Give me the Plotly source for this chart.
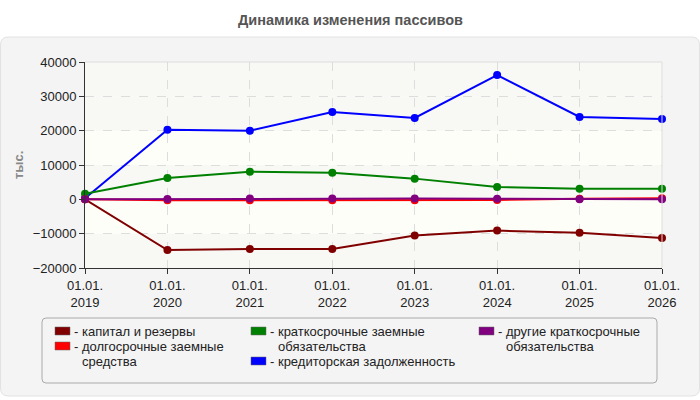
import plotly.graph_objects as go

years = [2019, 2020, 2021, 2022, 2023, 2024, 2025, 2026]
tick_labels = ["01.01.<br>%d" % y for y in years]

capital = [0, -14750, -14450, -14450, -10570, -9110, -9700, -11250]
long_term = [0, -300, -300, -300, -300, -200, 200, 300]
short_term = [1650, 6200, 8060, 7770, 6030, 3600, 3110, 3110]
payables = [300, 20300, 20000, 25440, 23700, 36200, 24000, 23400]
other_short = [0, 100, 250, 250, 250, 150, 50, 0]

series_names = [
    "капитал и резервы",
    "долгосрочные заемные<br>средства",
    "краткосрочные заемные<br>обязательства",
    "кредиторская задолженность",
    "другие краткосрочные<br>обязательства",
]
series_values = [capital, long_term, short_term, payables, other_short]
series_colors = ["#800000", "#ff0000", "#008000", "#0000ff", "#800080"]

FONT = "Liberation Sans, Arial, sans-serif"
W, H = 700, 400
L, R, T, B = 85, 38, 62, 132
PW, PH = W - L - R, H - T - B


def px2x(px):
    return (px - L) / PW


def px2y(py):
    return 1 - (py - T) / PH


fig = go.Figure()

draw_order = [0, 3, 2, 1, 4]
for i in draw_order:
    fig.add_trace(go.Scatter(
        x=years, y=series_values[i], mode="lines+markers",
        name=series_names[i].replace("<br>", " "),
        line=dict(color=series_colors[i], width=2),
        marker=dict(color=series_colors[i], size=8),
        cliponaxis=False, showlegend=False,
    ))

shapes = []
x0, x1 = px2x(0.5), px2x(699.5)
y0, y1 = px2y(396), px2y(37)
rx, ry = 8 / PW, 8 / PH
path = (f"M {x0+rx},{y1} L {x1-rx},{y1} Q {x1},{y1} {x1},{y1-ry} "
        f"L {x1},{y0+ry} Q {x1},{y0} {x1-rx},{y0} L {x0+rx},{y0} "
        f"Q {x0},{y0} {x0},{y0+ry} L {x0},{y1-ry} Q {x0},{y1} {x0+rx},{y1} Z")
shapes.append(dict(type="path", xref="paper", yref="paper", path=path,
                   fillcolor="#f4f4f4", line=dict(color="#e2e2e2", width=1),
                   layer="below"))
shapes.append(dict(type="rect", xref="paper", yref="paper", x0=0, x1=1, y0=0, y1=1,
                   fillcolor="#fefef8", line=dict(width=0), layer="below"))
for lo, hi in [(30000, 40000), (20000, 30000), (0, 10000), (-20000, -10000)]:
    shapes.append(dict(type="rect", xref="paper", yref="y", x0=0, x1=1, y0=lo, y1=hi,
                       fillcolor="#f8f8f5", line=dict(width=0), layer="below"))
shapes.append(dict(type="path", xref="paper", yref="paper",
                   path="M 0,1 L 1,1 L 1,0", line=dict(color="#dddddd", width=1)))

lx0, lx1 = px2x(42), px2x(657)
ly0, ly1 = px2y(383), px2y(318)
lrx, lry = 4 / PW, 4 / PH
lpath = (f"M {lx0+lrx},{ly1} L {lx1-lrx},{ly1} Q {lx1},{ly1} {lx1},{ly1-lry} "
         f"L {lx1},{ly0+lry} Q {lx1},{ly0} {lx1-lrx},{ly0} L {lx0+lrx},{ly0} "
         f"Q {lx0},{ly0} {lx0},{ly0+lry} L {lx0},{ly1-lry} Q {lx0},{ly1} {lx0+lrx},{ly1} Z")
shapes.append(dict(type="path", xref="paper", yref="paper", path=lpath,
                   fillcolor="rgba(0,0,0,0)", line=dict(color="#aaaaaa", width=1)))

annotations = []
legend_pos = [(0, 55, 331), (1, 55, 346), (2, 251, 331), (3, 251, 361), (4, 479, 331)]
for idx, sx, sy in legend_pos:
    shapes.append(dict(type="rect", xref="paper", yref="paper",
                       x0=px2x(sx), x1=px2x(sx + 15), y0=px2y(sy + 4), y1=px2y(sy - 4),
                       fillcolor=series_colors[idx], line=dict(color="#666666", width=0.5)))
    lines = series_names[idx].split("<br>")
    for k, ln in enumerate(lines):
        if k == 0:
            annotations.append(dict(
                xref="paper", yref="paper", x=px2x(sx + 17), y=px2y(sy + 15 * k),
                xanchor="left", yanchor="middle", showarrow=False, text="- " + ln,
                font=dict(size=13, color="#222222", family=FONT)))
        else:
            annotations.append(dict(
                xref="paper", yref="paper", x=px2x(sx + 25), y=px2y(sy + 15 * k),
                xanchor="left", yanchor="middle", showarrow=False, text=ln,
                font=dict(size=13, color="#222222", family=FONT)))

annotations.append(dict(
    xref="paper", yref="paper", x=px2x(350), y=px2y(20), xanchor="center", yanchor="middle",
    showarrow=False, text="<b>Динамика изменения пассивов</b>",
    font=dict(size=14.5, color="#555555", family=FONT),
))
annotations.append(dict(
    xref="paper", yref="paper", x=px2x(18), y=px2y(165), xanchor="center", yanchor="middle",
    showarrow=False, text="<b>тыс.</b>", textangle=-90,
    font=dict(size=13, color="#888888", family=FONT),
))

fig.update_layout(
    width=W, height=H,
    margin=dict(l=L, r=R, t=T, b=B),
    paper_bgcolor="white", plot_bgcolor="rgba(0,0,0,0)",
    shapes=shapes, annotations=annotations, showlegend=False,
    font=dict(family=FONT, size=13, color="#222222"),
    xaxis=dict(range=[2019, 2026], tickvals=years, ticktext=tick_labels,
               showgrid=True, gridcolor="#dddddd", griddash="dash",
               showline=True, linecolor="#333333", linewidth=1,
               ticks="outside", ticklen=5, tickcolor="#333333", zeroline=False,
               tickfont=dict(size=13, color="#222222")),
    yaxis=dict(range=[-20000, 40000], tickvals=[-20000, -10000, 0, 10000, 20000, 30000, 40000],
               tickformat="d",
               showgrid=True, gridcolor="#dddddd", griddash="dash",
               showline=True, linecolor="#333333", linewidth=1,
               ticks="outside", ticklen=5, tickcolor="#333333", zeroline=False,
               tickfont=dict(size=13, color="#222222")),
)

fig.write_html("out.html")
